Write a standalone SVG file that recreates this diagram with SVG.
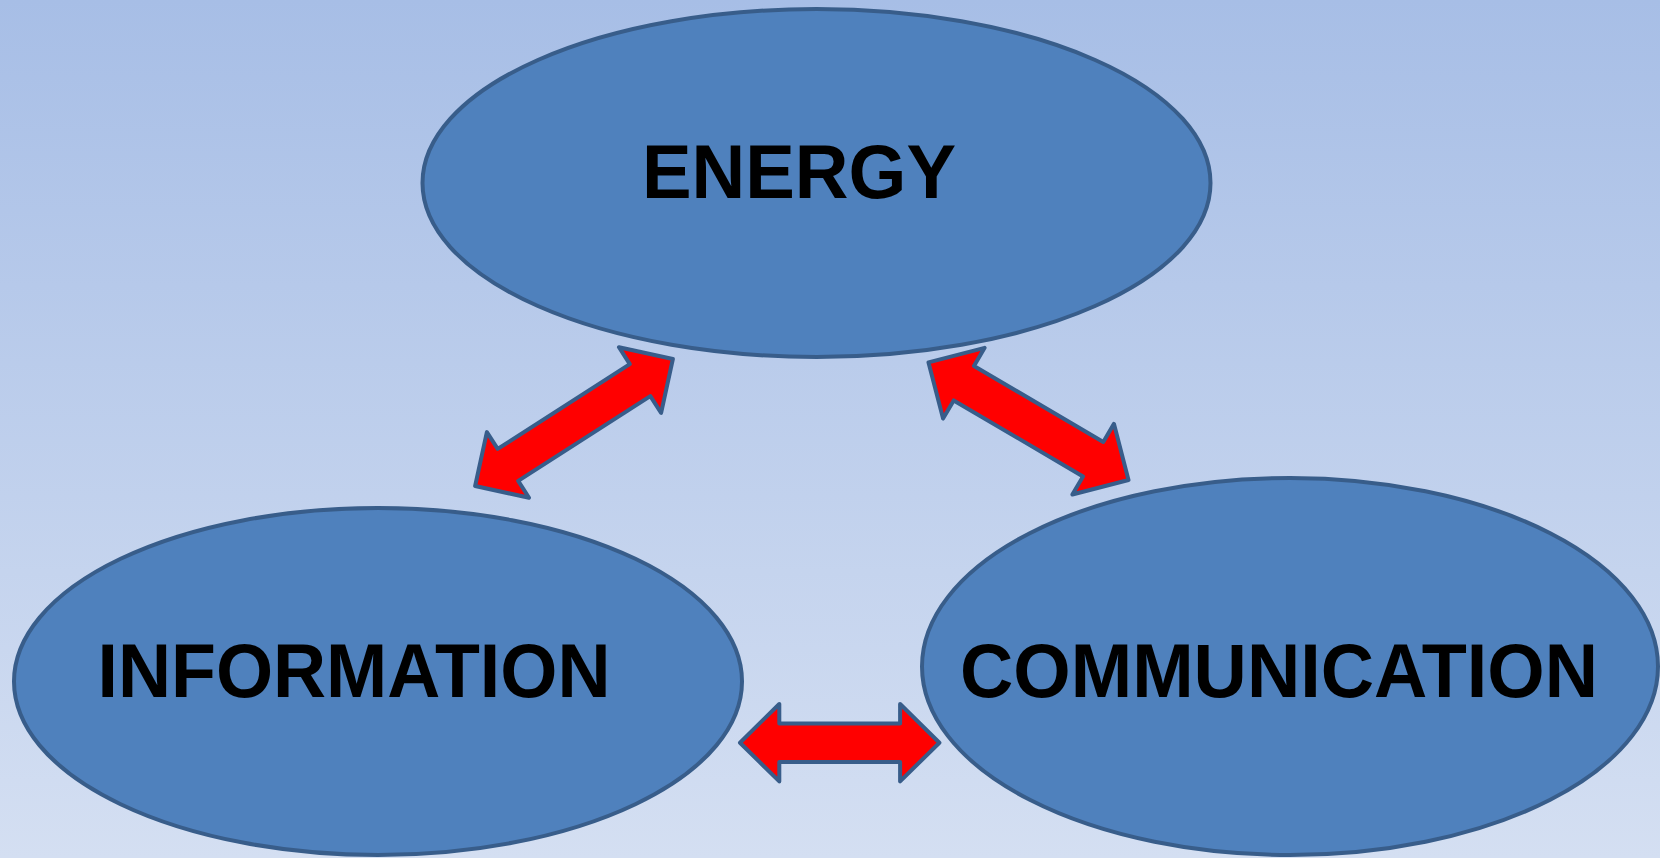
<svg xmlns="http://www.w3.org/2000/svg" width="1660" height="858" viewBox="0 0 1660 858">
<defs>
<linearGradient id="bg" x1="0" y1="0" x2="0" y2="1">
<stop offset="0" stop-color="#A7BEE6"/>
<stop offset="1" stop-color="#D4DFF2"/>
</linearGradient>
</defs>
<style>
.node{fill:#4F81BD;stroke:#385D8A;stroke-width:4}
.lbl{font-family:"Liberation Sans",Arial,sans-serif;font-weight:bold;font-size:76px;fill:#000;text-anchor:middle}
.arrow{fill:#FF0000;stroke:#385D8A;stroke-width:4;stroke-linejoin:round}
</style>
<rect x="0" y="0" width="1660" height="858" fill="url(#bg)"/>
<g id="energy">
<ellipse class="node" cx="816.5" cy="183" rx="394" ry="174"/>
<text class="lbl" x="799" y="198" textLength="314" lengthAdjust="spacingAndGlyphs">ENERGY</text>
</g>
<g id="information">
<ellipse class="node" cx="378" cy="681.5" rx="364" ry="173.5"/>
<text class="lbl" x="354" y="697" textLength="513" lengthAdjust="spacingAndGlyphs">INFORMATION</text>
</g>
<g id="communication">
<ellipse class="node" cx="1290" cy="666.5" rx="368" ry="188.5"/>
<text class="lbl" x="1279" y="697" textLength="638" lengthAdjust="spacingAndGlyphs">COMMUNICATION</text>
</g>
<g id="connectors">
<path class="arrow" transform="translate(574,422.5) rotate(-32.7)" d="M-117.5,0 L-78.5,-39 L-78.5,-19 L78.5,-19 L78.5,-39 L117.5,0 L78.5,39 L78.5,19 L-78.5,19 L-78.5,39 Z"/>
<path class="arrow" transform="translate(1028.5,421.2) rotate(30.45)" d="M-116,0 L-75,-41 L-75,-20 L75,-20 L75,-41 L116,0 L75,41 L75,20 L-75,20 L-75,41 Z"/>
<path class="arrow" transform="translate(839.7,742.7)" d="M-99.7,0 L-60.4,-38.7 L-60.4,-19.2 L60.4,-19.2 L60.4,-38.7 L99.7,0 L60.4,38.7 L60.4,19.2 L-60.4,19.2 L-60.4,38.7 Z"/>
</g>
</svg>
